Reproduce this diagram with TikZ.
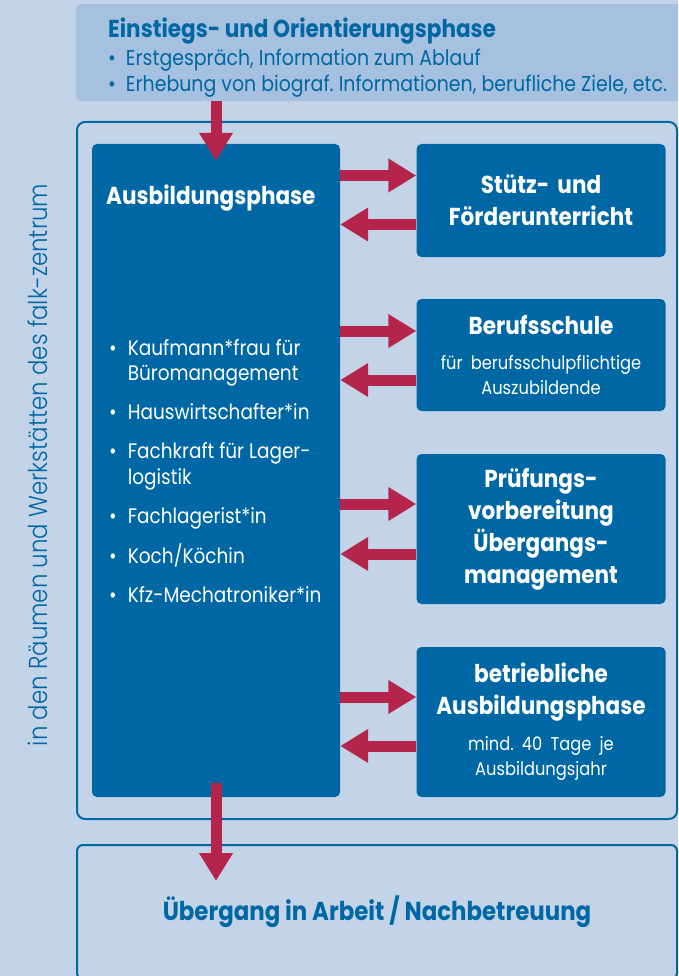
\documentclass[tikz,border=0pt]{standalone}
\usepackage{fontspec}
\setmainfont{Poppins}[FakeStretch=0.88]
\newfontfamily\falklight{Poppins Light}[FakeStretch=0.88]
\frenchspacing
\usetikzlibrary{arrows.meta}
\definecolor{falkbg}{rgb}{0.765, 0.831, 0.914}
\definecolor{falktop}{rgb}{0.651, 0.757, 0.878}
\definecolor{falkblue}{rgb}{0.000, 0.404, 0.647}
\definecolor{falkred}{rgb}{0.710, 0.145, 0.294}
\newcommand{\falkhead}{\bfseries\fontsize{24.5}{32}\selectfont}
\newcommand{\falktext}{\mdseries\fontsize{21}{25.5}\selectfont}
\newcommand{\falksmall}{\mdseries\fontsize{18.5}{25}\selectfont}
\tikzset{phase/.style={fill=falkblue, rounded corners=5pt, text=white}}
\tikzset{side/.style={phase, minimum width=249pt, text width=240pt, inner xsep=4.5pt, align=center, font=\falkhead}}
\tikzset{redarrow/.style={line width=11pt, color=falkred, -{Triangle[length=28pt,width=32pt]}}}
\tikzset{frameline/.style={draw=falkblue, line width=2pt, rounded corners=8pt}}

\begin{document}
\begin{tikzpicture}[x=1pt,y=-1pt]
        \path[use as bounding box] (0,0) rectangle (678,976);
        \clip (0,0) rectangle (678,976);
        \fill[falkbg] (0,0) rectangle (678,976);

        \node[fill=falktop, rounded corners=5pt, anchor=north west, minimum width=610pt, minimum height=97pt] (einstieg) at (76,4) {};
        \node[anchor=base west, inner sep=0pt, text=falkblue, font=\fontsize{21.5}{26}\selectfont] (einstiegtext) at (108,38)
            {\begin{tabular}[t]{@{}l@{}}
             {\falkhead Einstiegs- und Orientierungsphase}\\[2pt]
             \textbullet\hspace{10pt}Erstgespräch, Information zum Ablauf\\
             \textbullet\hspace{10pt}Erhebung von biograf. Informationen, berufliche Ziele, etc.
             \end{tabular}};

        \draw[frameline] (77,122) rectangle (677,819);

        \node[phase, minimum width=248pt, minimum height=653pt] (ausb) at (216,470.5) {};
        \node[anchor=base west, inner sep=0pt, text=white, font=\falkhead] (ausbtitel) at (106,205) {Ausbildungsphase};
        \node[anchor=base west, inner sep=0pt, text=white, font=\falktext] (berufe) at (109,355)
            {\begin{tabular}[t]{@{}l@{\hspace{11pt}}l@{}}
             \textbullet & Kaufmann*frau für\\
                         & Büromanagement\\[13.5pt]
             \textbullet & Hauswirtschafter*in\\[13.5pt]
             \textbullet & Fachkraft für Lager-\\
                         & logistik\\[13.5pt]
             \textbullet & Fachlagerist*in\\[13.5pt]
             \textbullet & Koch/Köchin\\[13.5pt]
             \textbullet & Kfz-Mechatroniker*in
             \end{tabular}};

        \node[side, minimum height=113pt] (stuetz) at (541,200.5) {Stütz- und\\Förderunterricht};
        \node[side, minimum height=112pt] (schule) at (541,355)
            {Berufsschule\par\vspace{10pt}{\falksmall für berufsschulpflichtige\\Auszubildende\par}};
        \node[side, minimum height=150pt] (pruefung) at (541,529) {Prüfungs-\\vorbereitung\\Übergangs-\\management};
        \node[side, minimum height=150pt] (betrieb) at (541,722)
            {betriebliche\\Ausbildungsphase\par\vspace{11pt}{\falksmall mind. 40 Tage je\\Ausbildungsjahr\par}};

        \node[draw=falkblue, line width=2pt, rounded corners=6pt, minimum width=600pt, minimum height=134pt, text=falkblue, font=\bfseries\fontsize{26}{30}\selectfont] (uebergang) at (377,912) {Übergang in Arbeit / Nachbetreuung};

        \node[rotate=90, text=falkblue, font=\falklight\fontsize{26}{26}\selectfont] (ort) at (38,465) {in den Räumen und Werkstätten des falk-zentrum};

        \coordinate (unten) at (ausb.south |- uebergang.north);

        \draw[redarrow] (ausb.north |- einstieg.south) -- ([yshift=-17pt]ausb.north);
        \draw[redarrow] ([yshift=25pt]stuetz.west -| ausb.east) -- ([yshift=25pt]stuetz.west);
        \draw[redarrow] ([yshift=-24pt]stuetz.west) -- ([yshift=-24pt]stuetz.west -| ausb.east);
        \draw[redarrow] ([yshift=24pt]schule.west -| ausb.east) -- ([yshift=24pt]schule.west);
        \draw[redarrow] ([yshift=-25pt]schule.west) -- ([yshift=-25pt]schule.west -| ausb.east);
        \draw[redarrow] ([yshift=25pt]pruefung.west -| ausb.east) -- ([yshift=25pt]pruefung.west);
        \draw[redarrow] ([yshift=-25pt]pruefung.west) -- ([yshift=-25pt]pruefung.west -| ausb.east);
        \draw[redarrow] ([yshift=25pt]betrieb.west -| ausb.east) -- ([yshift=25pt]betrieb.west);
        \draw[redarrow] ([yshift=-24pt]betrieb.west) -- ([yshift=-24pt]betrieb.west -| ausb.east);
        \draw[redarrow] ([yshift=14pt]ausb.south) -- ([yshift=-37pt]unten);
\end{tikzpicture}
\end{document}
